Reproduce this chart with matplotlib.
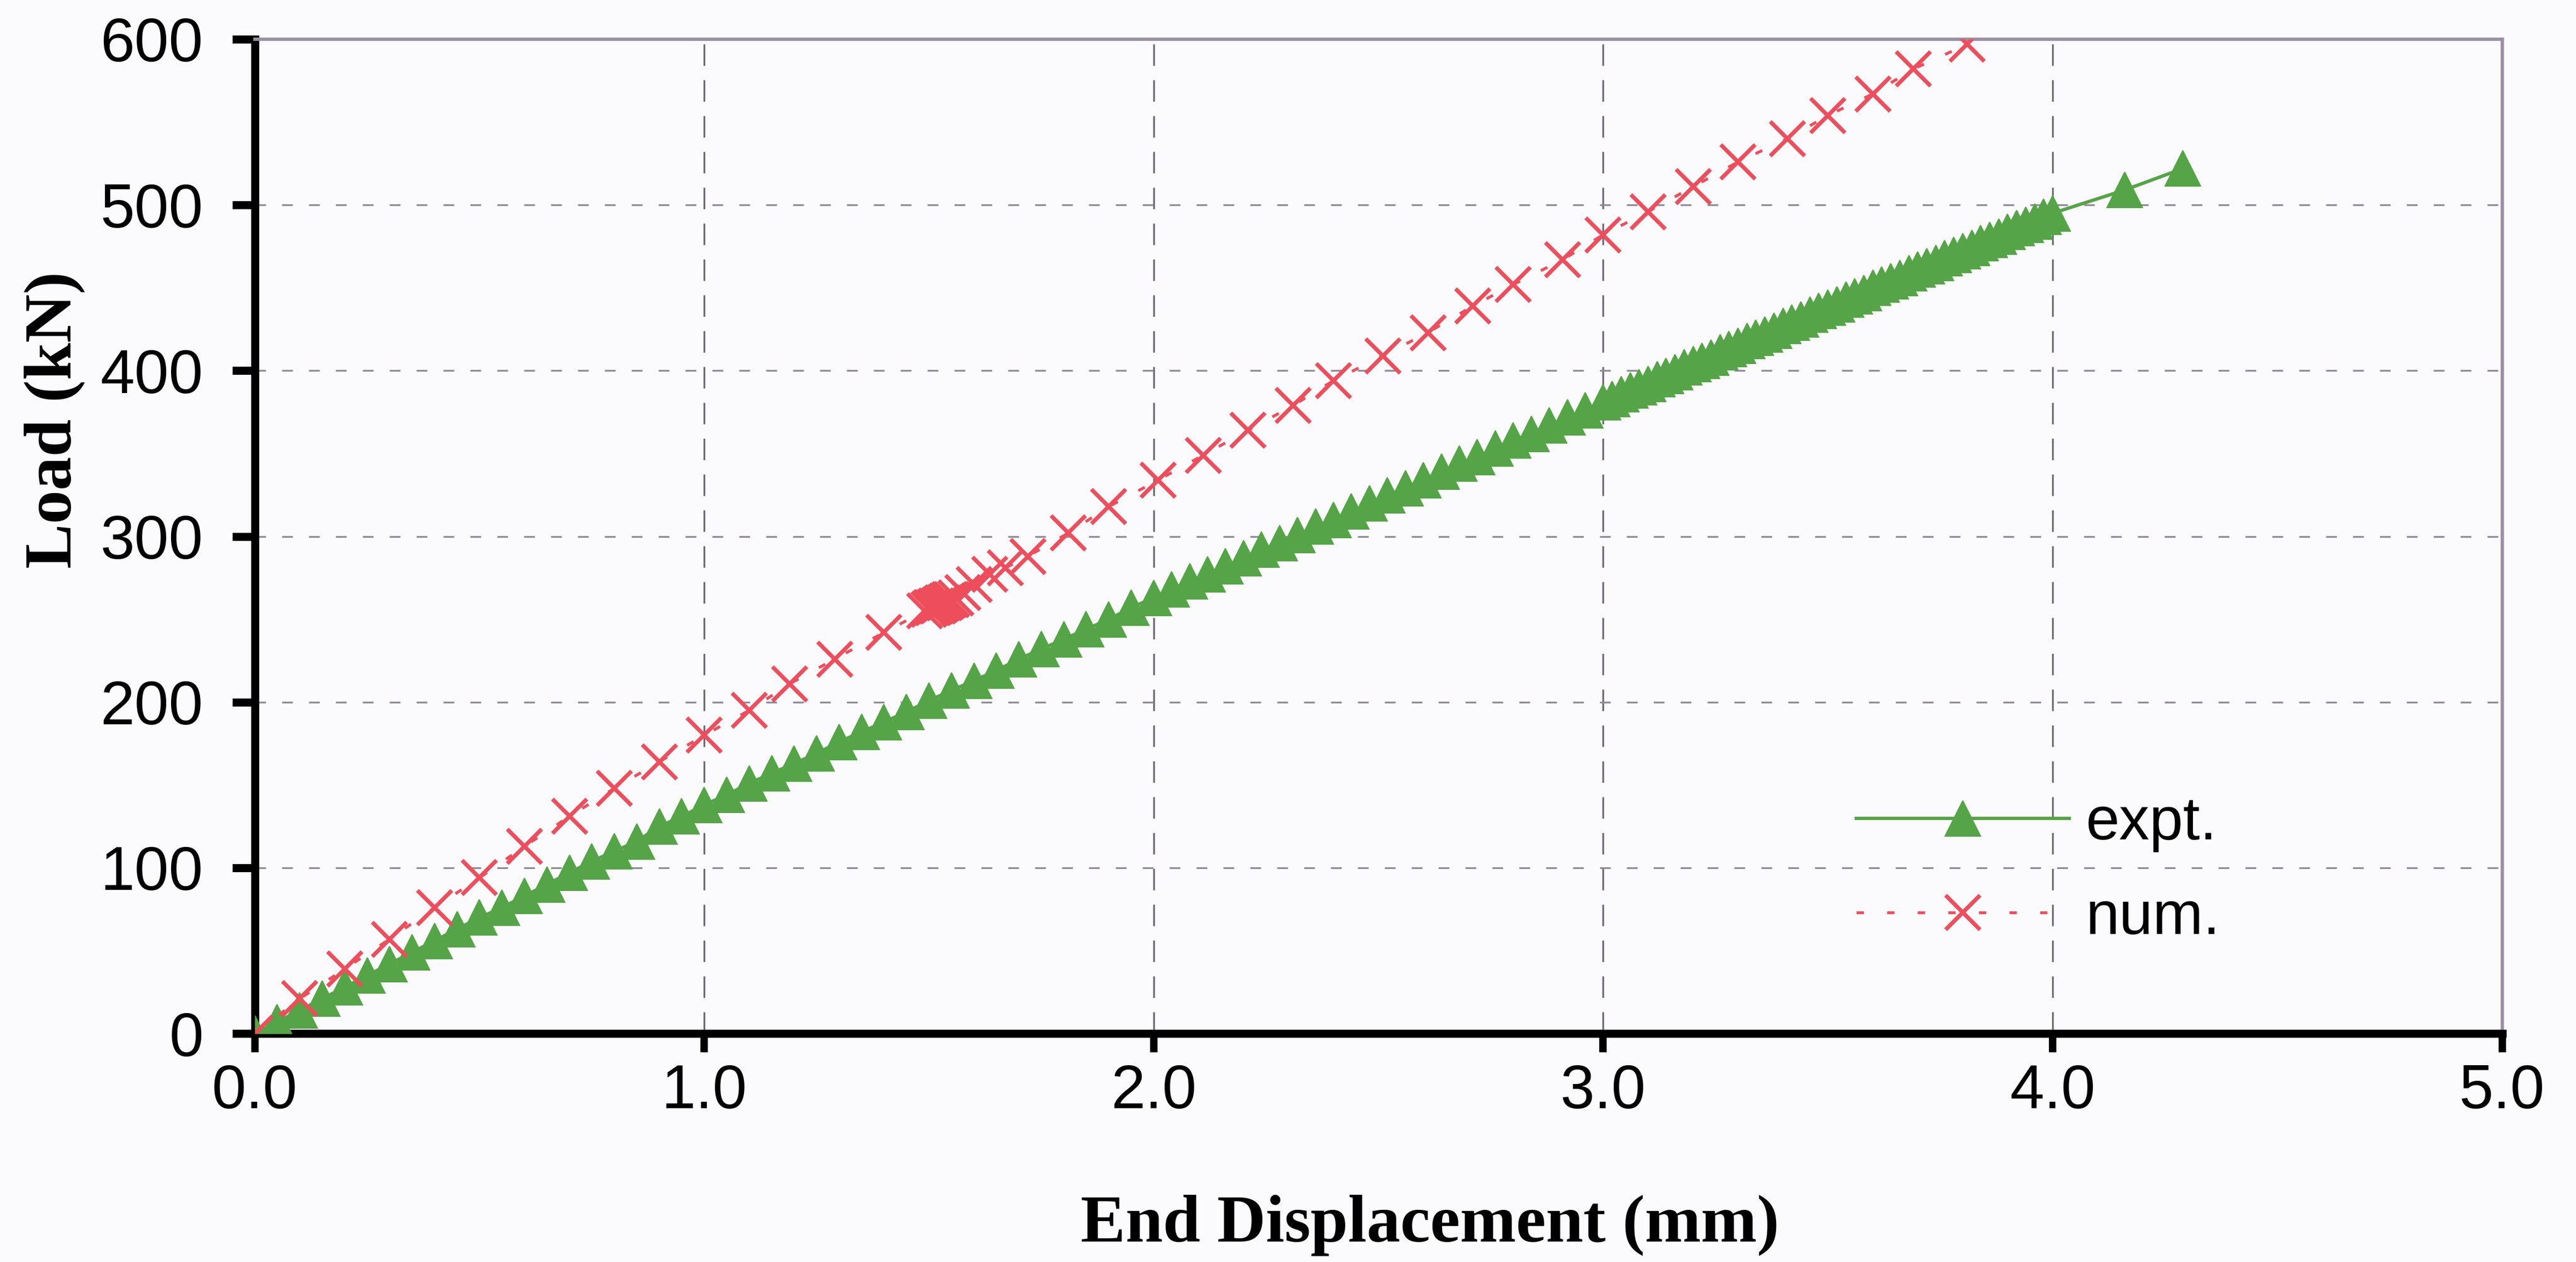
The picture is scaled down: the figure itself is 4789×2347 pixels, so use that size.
import matplotlib
matplotlib.use('Agg')
import matplotlib.pyplot as plt

# experimental load-displacement curve
expt_x = [0.00, 0.05, 0.10, 0.15, 0.20, 0.25, 0.30, 0.35, 0.40, 0.45,
          0.50, 0.55, 0.60, 0.65, 0.70, 0.75, 0.80, 0.85, 0.90, 0.95,
          1.00, 1.05, 1.10, 1.15, 1.20, 1.25, 1.30, 1.35, 1.40, 1.45,
          1.50, 1.55, 1.60, 1.65, 1.70, 1.75, 1.80, 1.85, 1.90, 1.95,
          2.00, 2.04, 2.08, 2.12, 2.16, 2.20, 2.24, 2.28, 2.32, 2.36,
          2.40, 2.44, 2.48, 2.52, 2.56, 2.60, 2.64, 2.68, 2.72, 2.76,
          2.80, 2.84, 2.88, 2.92, 2.96, 3.00, 3.02, 3.04, 3.06, 3.08,
          3.10, 3.12, 3.14, 3.16, 3.18, 3.20, 3.22, 3.24, 3.26, 3.28,
          3.30, 3.32, 3.34, 3.36, 3.38, 3.40, 3.42, 3.44, 3.46, 3.48,
          3.50, 3.52, 3.54, 3.56, 3.58, 3.60, 3.62, 3.64, 3.66, 3.68,
          3.70, 3.72, 3.74, 3.76, 3.78, 3.80, 3.82, 3.84, 3.86, 3.88,
          3.90, 3.92, 3.94, 3.96, 3.98, 4.00, 4.16, 4.29]
expt_y = [0, 7, 14, 21, 28, 35, 42, 49, 56, 63,
          70, 76, 83, 90, 97, 104, 110, 116, 125, 131,
          138, 144, 151, 157, 163, 169, 176, 182, 188, 194,
          201, 207, 213, 219, 226, 232, 238, 244, 250, 257,
          263, 268, 273, 277, 282, 287, 292, 296, 301, 306,
          310, 315, 320, 325, 329, 334, 339, 344, 348, 353,
          358, 362, 367, 372, 376, 381, 383, 386, 388, 390,
          392, 395, 397, 399, 402, 404, 406, 408, 411, 413,
          415, 418, 420, 422, 424, 427, 429, 431, 434, 436,
          438, 440, 443, 445, 447, 450, 452, 454, 456, 459,
          461, 463, 465, 468, 470, 472, 474, 477, 479, 481,
          484, 486, 488, 490, 493, 495, 509, 522]

# numerical prediction
num_x = [0.00, 0.10, 0.20, 0.30, 0.40, 0.50, 0.60, 0.70, 0.80, 0.90,
         1.00, 1.10, 1.19, 1.29, 1.40, 1.49, 1.50, 1.505, 1.51, 1.515,
         1.52, 1.525, 1.53, 1.535, 1.54, 1.545, 1.55, 1.56, 1.575, 1.60,
         1.635, 1.67, 1.72, 1.81, 1.90, 2.01, 2.11, 2.21, 2.31, 2.40,
         2.51, 2.61, 2.71, 2.80, 2.91, 3.00, 3.10, 3.20, 3.30, 3.41,
         3.50, 3.60, 3.69, 3.81]
num_y = [0, 21, 39, 57, 76, 94, 113, 131, 148, 164,
         180, 195, 211, 226, 242, 255, 256, 257, 257, 258,
         258, 259, 260, 260, 261, 262, 262, 263, 266, 271,
         277, 281, 288, 302, 318, 334, 349, 364, 379, 394,
         409, 423, 439, 452, 467, 482, 496, 511, 526, 540,
         554, 567, 582, 597]

x_ticks = [0, 1, 2, 3, 4, 5]
x_ticklabels = ['0.0', '1.0', '2.0', '3.0', '4.0', '5.0']
y_ticks = [0, 100, 200, 300, 400, 500, 600]

green = '#55a447'
red = '#ee4e5c'

fig = plt.figure(figsize=(4789 / 300, 2347 / 300), dpi=300, facecolor='#fbfbfd')
ax = fig.add_axes([0.0989, 0.181, 0.8724, 0.7879])
ax.set_facecolor('#fbfbfd')

ax.plot(expt_x, expt_y, color=green, lw=1.5, marker='^', ms=16,
        mec=green, mew=0.5, label='expt.', zorder=3)
ax.plot(num_x, num_y, color=red, lw=1.3, ls=(0, (2.5, 8)), marker='x', ms=15.5,
        mew=1.8, label='num.', zorder=4)

ax.set_xlim(0, 5)
ax.set_ylim(0, 600)
ax.set_xticks(x_ticks)
ax.set_xticklabels(x_ticklabels)
ax.set_yticks(y_ticks)

# dashed grid, vertical lines with longer dashes
for xv in x_ticks[1:-1]:
    ax.axvline(xv, color='#6e6878', lw=0.8, ls=(0, (12, 8)), zorder=1)
for yv in y_ticks[1:-1]:
    ax.axhline(yv, color='#8f8a98', lw=0.8, ls=(0, (6, 9)), zorder=1)

for side in ['left', 'bottom']:
    ax.spines[side].set_linewidth(3.6)
    ax.spines[side].set_color('black')
for side in ['top', 'right']:
    ax.spines[side].set_linewidth(1.5)
    ax.spines[side].set_color('#9b8fa5')

ax.tick_params(axis='y', direction='out', length=10, width=3.6, pad=13)
ax.tick_params(axis='x', direction='out', length=8.5, width=3.3, pad=5)
for lab in ax.get_xticklabels() + ax.get_yticklabels():
    lab.set_fontfamily('Liberation Sans')
    lab.set_fontsize(27.5)

ax.set_xlabel('End Displacement (mm)', family='Liberation Serif', weight='bold',
              fontsize=30, va='center')
ax.xaxis.set_label_coords(0.523, -0.193)
ax.set_ylabel('Load (kN)', family='Liberation Serif', weight='bold',
              fontsize=30, va='center')
ax.yaxis.set_label_coords(-0.089, 0.617)

leg = ax.legend(loc='upper left', bbox_to_anchor=(0.7127, 0.2397), frameon=False,
                prop={'family': 'Liberation Sans', 'size': 27},
                handlelength=3.52, handletextpad=0.27, labelspacing=0.62,
                borderpad=0, borderaxespad=0)

plt.savefig('out.png', dpi=300, facecolor=fig.get_facecolor())
